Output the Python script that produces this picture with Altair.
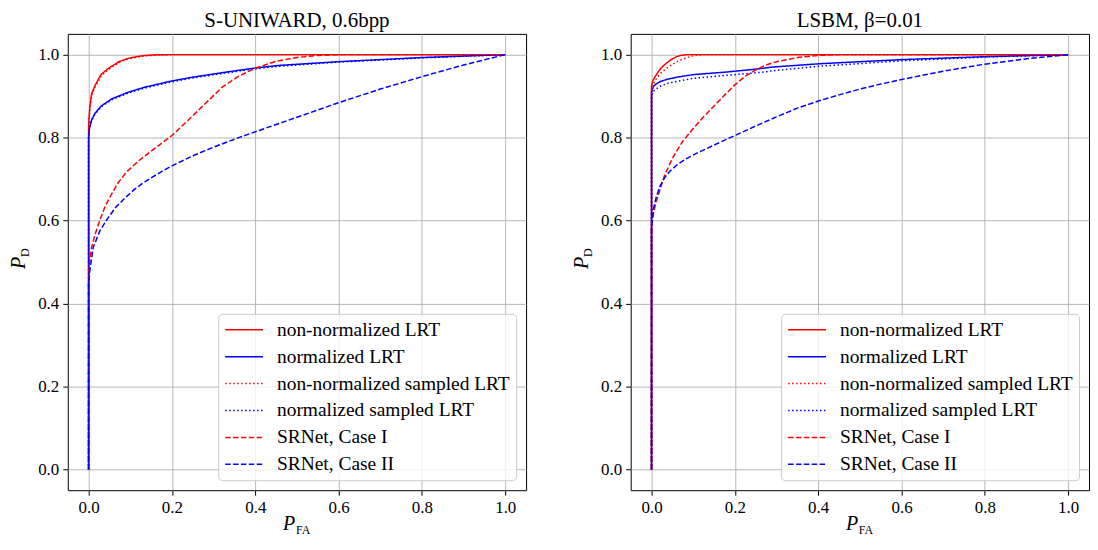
import altair as alt
import pandas as pd

# ---------------- data ----------------
series_names = ["non-normalized LRT", "normalized LRT", "non-normalized sampled LRT",
                "normalized sampled LRT", "SRNet, Case I", "SRNet, Case II"]
series_colors = ["#ff0000", "#0000ff", "#ff0000", "#0000ff", "#ff0000", "#0000ff"]
series_dashes = [[1, 0], [1, 0], [1.5, 2.5], [1.5, 2.5], [5.5, 2.4], [5.5, 2.4]]
tick_values = [0.0, 0.2, 0.4, 0.6, 0.8, 1.0]

# S-UNIWARD, 0.6bpp
su_lrt_x = [0, 0, 0.001, 0.003, 0.007, 0.015, 0.03, 0.045, 0.055, 0.075, 0.095, 0.115, 0.135, 0.16, 0.19, 0.4, 0.7, 1.0]
su_lrt_y = [0, 0.825, 0.848, 0.873, 0.905, 0.925, 0.952, 0.965, 0.972, 0.984, 0.991, 0.995, 0.998, 0.9995, 1.0, 1.0, 1.0, 1.0]
su_nlrt_x = [0, 0, 0.002, 0.007, 0.015, 0.03, 0.055, 0.094, 0.133, 0.197, 0.252, 0.331, 0.402, 0.457, 0.6, 0.8, 1.0]
su_nlrt_y = [0, 0.80, 0.822, 0.842, 0.858, 0.876, 0.893, 0.909, 0.921, 0.936, 0.946, 0.958, 0.968, 0.974, 0.983, 0.993, 1.0]
su_slrt_x = [0, 0, 0.001, 0.003, 0.007, 0.015, 0.03, 0.055, 0.075, 0.095, 0.135, 0.165, 0.2, 0.5, 1.0]
su_slrt_y = [0, 0.815, 0.842, 0.868, 0.900, 0.921, 0.949, 0.970, 0.982, 0.990, 0.997, 0.999, 1.0, 1.0, 1.0]
su_snlrt_x = [0, 0, 0.002, 0.007, 0.015, 0.03, 0.055, 0.094, 0.133, 0.197, 0.252, 0.331, 0.402, 0.457, 0.6, 0.8, 1.0]
su_snlrt_y = [0, 0.798, 0.820, 0.840, 0.856, 0.874, 0.891, 0.907, 0.919, 0.934, 0.944, 0.956, 0.966, 0.972, 0.982, 0.992, 1.0]
su_c1_x = [0, 0, 0.002, 0.007, 0.015, 0.027, 0.04, 0.052, 0.07, 0.09, 0.12, 0.16, 0.2, 0.24, 0.28, 0.32, 0.36, 0.4, 0.45, 0.5, 0.55, 0.6, 0.8, 1.0]
su_c1_y = [0, 0.45, 0.495, 0.535, 0.565, 0.601, 0.635, 0.658, 0.69, 0.716, 0.744, 0.775, 0.805, 0.843, 0.882, 0.921, 0.948, 0.967, 0.984, 0.993, 0.998, 1.0, 1.0, 1.0]
su_c2_x = [0, 0, 0.003, 0.011, 0.027, 0.043, 0.065, 0.09, 0.11, 0.13, 0.15, 0.175, 0.2, 0.25, 0.3, 0.35, 0.4, 0.5, 0.6, 0.7, 0.8, 0.9, 1.0]
su_c2_y = [0, 0.45, 0.48, 0.535, 0.575, 0.601, 0.632, 0.657, 0.675, 0.69, 0.703, 0.718, 0.732, 0.756, 0.777, 0.796, 0.814, 0.849, 0.884, 0.917, 0.947, 0.975, 1.0]

# LSBM, beta=0.01
ls_lrt_x = [0, 0, 0.003, 0.007, 0.015, 0.023, 0.035, 0.047, 0.06, 0.07, 0.085, 0.5, 1.0]
ls_lrt_y = [0, 0.925, 0.937, 0.944, 0.957, 0.968, 0.979, 0.988, 0.995, 0.998, 1.0, 1.0, 1.0]
ls_nlrt_x = [0, 0, 0.005, 0.012, 0.023, 0.04, 0.063, 0.102, 0.18, 0.26, 0.29, 0.403, 0.6, 0.8, 1.0]
ls_nlrt_y = [0, 0.91, 0.924, 0.930, 0.936, 0.941, 0.946, 0.952, 0.958, 0.966, 0.970, 0.978, 0.988, 0.995, 1.0]
ls_slrt_x = [0, 0, 0.005, 0.012, 0.023, 0.04, 0.054, 0.07, 0.086, 0.1, 0.12, 0.5, 1.0]
ls_slrt_y = [0, 0.91, 0.930, 0.943, 0.956, 0.970, 0.979, 0.987, 0.993, 0.997, 1.0, 1.0, 1.0]
ls_snlrt_x = [0, 0, 0.005, 0.012, 0.023, 0.04, 0.063, 0.102, 0.18, 0.26, 0.29, 0.403, 0.6, 0.8, 1.0]
ls_snlrt_y = [0, 0.90, 0.912, 0.918, 0.925, 0.931, 0.936, 0.943, 0.950, 0.957, 0.961, 0.972, 0.985, 0.994, 1.0]
ls_c1_x = [0, 0, 0.003, 0.011, 0.031, 0.05, 0.074, 0.1, 0.125, 0.15, 0.175, 0.2, 0.225, 0.25, 0.275, 0.3, 0.35, 0.4, 0.45, 1.0]
ls_c1_y = [0, 0.58, 0.61, 0.645, 0.708, 0.75, 0.79, 0.822, 0.85, 0.876, 0.902, 0.927, 0.948, 0.963, 0.975, 0.983, 0.993, 0.998, 1.0, 1.0]
ls_c2_x = [0, 0, 0.005, 0.011, 0.02, 0.031, 0.045, 0.062, 0.085, 0.11, 0.15, 0.2, 0.25, 0.3, 0.35, 0.4, 0.45, 0.5, 0.55, 0.6, 0.7, 0.8, 0.9, 1.0]
ls_c2_y = [0, 0.58, 0.63, 0.655, 0.682, 0.703, 0.72, 0.735, 0.75, 0.763, 0.782, 0.805, 0.828, 0.85, 0.871, 0.888, 0.903, 0.917, 0.929, 0.94, 0.96, 0.977, 0.99, 1.0]

su_curves = [(su_lrt_x, su_lrt_y), (su_nlrt_x, su_nlrt_y), (su_slrt_x, su_slrt_y),
             (su_snlrt_x, su_snlrt_y), (su_c1_x, su_c1_y), (su_c2_x, su_c2_y)]
ls_curves = [(ls_lrt_x, ls_lrt_y), (ls_nlrt_x, ls_nlrt_y), (ls_slrt_x, ls_slrt_y),
             (ls_snlrt_x, ls_snlrt_y), (ls_c1_x, ls_c1_y), (ls_c2_x, ls_c2_y)]


def build_df(curves):
    rows = []
    for name, (xs, ys) in zip(series_names, curves):
        for i, (x, y) in enumerate(zip(xs, ys)):
            rows.append({"series": name, "x": x, "y": y, "idx": i})
    return pd.DataFrame(rows)


FONT = "Liberation Serif"
dom = [-0.05, 1.05]
W, H = 460, 458


def panel(curves, title):
    df = build_df(curves)
    legend = alt.Legend(
        title=None, orient="bottom-right", offset=10,
        fillColor="rgba(255,255,255,0.8)", strokeColor="#cccccc", cornerRadius=4,
        padding=6, symbolType="stroke", symbolSize=1444, symbolStrokeWidth=1.5,
        labelFont=FONT, labelFontSize=19.5, labelColor="black", labelOffset=13,
        rowPadding=7, clipHeight=20, labelLimit=400,
    )
    lines = alt.Chart(df).mark_line(strokeWidth=1.5).encode(
        x=alt.X("x:Q", scale=alt.Scale(domain=dom, nice=False, zero=False),
                axis=alt.Axis(values=tick_values, format=".1f", title=None)),
        y=alt.Y("y:Q", scale=alt.Scale(domain=dom, nice=False, zero=False),
                axis=alt.Axis(values=tick_values, format=".1f", title=None)),
        color=alt.Color("series:N", scale=alt.Scale(domain=series_names, range=series_colors),
                        legend=legend),
        strokeDash=alt.StrokeDash("series:N", scale=alt.Scale(domain=series_names, range=series_dashes),
                                  legend=legend),
        order=alt.Order("idx:Q"),
    )
    lab = pd.DataFrame({"t": ["P"]})
    pd_main = alt.Chart(lab).mark_text(font=FONT, fontSize=20, fontStyle="italic", angle=270,
                                       align="left", baseline="alphabetic", color="black").encode(
        x=alt.value(-43), y=alt.value(H / 2 + 7), text="t:N")
    pd_sub = alt.Chart(pd.DataFrame({"t": ["D"]})).mark_text(font=FONT, fontSize=12, angle=270,
                                                             align="left", baseline="alphabetic", color="black").encode(
        x=alt.value(-39), y=alt.value(H / 2 - 5), text="t:N")
    pfa_main = alt.Chart(lab).mark_text(font=FONT, fontSize=20, fontStyle="italic",
                                        align="left", baseline="alphabetic", color="black").encode(
        x=alt.value(W / 2 - 14), y=alt.value(H + 40), text="t:N")
    pfa_sub = alt.Chart(pd.DataFrame({"t": ["FA"]})).mark_text(font=FONT, fontSize=12,
                                                               align="left", baseline="alphabetic", color="black").encode(
        x=alt.value(W / 2 - 1), y=alt.value(H + 44), text="t:N")
    return alt.layer(lines, pd_main, pd_sub, pfa_main, pfa_sub).properties(
        width=W, height=H,
        title=alt.TitleParams(title, font=FONT, fontSize=21, fontWeight="normal", color="black", offset=3),
    )


left = panel(su_curves, "S-UNIWARD, 0.6bpp")
right = panel(ls_curves, "LSBM, β=0.01")

chart = alt.hconcat(left, right, spacing=44).resolve_scale(
    color="independent", strokeDash="independent"
).properties(padding={"left": 0, "top": 0, "right": 0, "bottom": 0}).configure_view(
    stroke="black", strokeWidth=1
).configure_axis(
    domain=False, grid=True, gridColor="#b0b0b0", gridWidth=0.9,
    ticks=True, tickColor="black", tickSize=5, tickWidth=1,
    labelFont=FONT, labelFontSize=17, labelColor="black", labelPadding=4,
)

chart.save("out.html", embed_options={"renderer": "svg", "actions": False})
